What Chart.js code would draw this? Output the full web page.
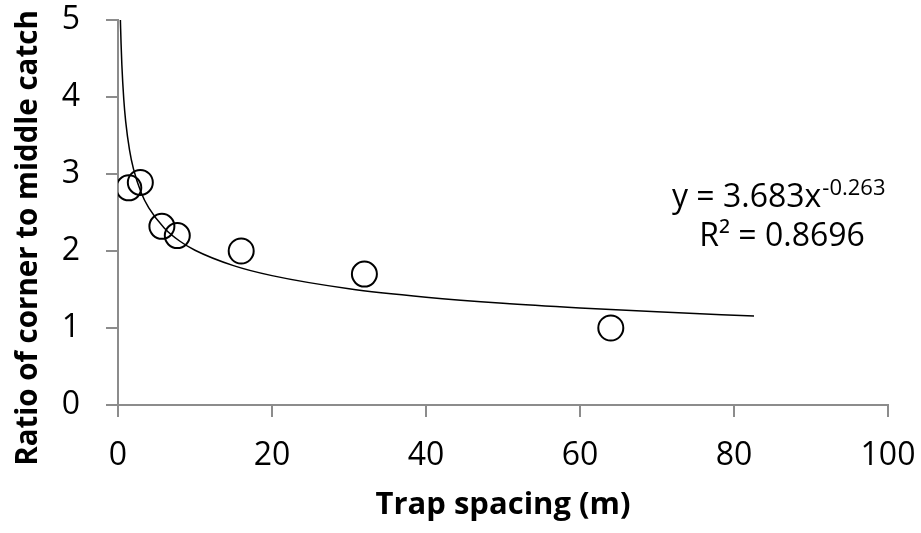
<!DOCTYPE html>
<html>
<head>
<meta charset="utf-8">
<script src="https://cdn.jsdelivr.net/npm/chart.js@4/dist/chart.umd.min.js"></script>
<style>
  html, body { margin: 0; padding: 0; background: #fff; }
  #wrap { width: 921px; height: 533px; position: relative; }
</style>
</head>
<body>
<div id="wrap"><canvas id="myChart" width="921" height="533"></canvas></div>
<script>
// observed points
const spacing = [1.4, 2.9, 5.7, 7.7, 16, 32, 64];
const ratio = [2.82, 2.89, 2.32, 2.2, 2.0, 1.7, 1.0];

// power trendline
const trendX = [0.31, 0.4, 0.5, 0.75, 1, 1.5, 2, 3, 4, 6, 8, 10, 15, 20, 30, 40, 50, 60, 70, 82.6];
const trendY = [5.0, 4.69, 4.42, 3.97, 3.68, 3.31, 3.07, 2.76, 2.56, 2.30, 2.13, 2.01, 1.81, 1.68, 1.51, 1.40, 1.32, 1.26, 1.21, 1.155];

const xTicks = [0, 20, 40, 60, 80, 100];
const yTicks = [0, 1, 2, 3, 4, 5];

const yTitle = 'Ratio of corner to middle catch';
const equationText = 'y = 3.683x';
const exponentText = '-0.263';
const r2Text = 'R² = 0.8696';

const fontFamily = '"Open Sans", "Noto Sans", sans-serif';
const axisGrey = '#8c8c8c';

// equation label and the y axis title (Excel puts it a bit lower than centred)
const labelsPlugin = {
    id: 'labels',
    afterDraw(chart) {
        const ctx = chart.ctx;
        ctx.save();
        ctx.fillStyle = '#000';
        ctx.textBaseline = 'alphabetic';
        ctx.textAlign = 'left';
        ctx.font = '32px ' + fontFamily;
        const w = ctx.measureText(equationText).width;
        ctx.fillText(equationText, 672, 207);
        ctx.font = '22px ' + fontFamily;
        ctx.fillText(exponentText, 672 + w + 1, 195);
        ctx.font = '32px ' + fontFamily;
        ctx.textAlign = 'center';
        ctx.fillText(r2Text, 782, 246);

        ctx.translate(29, 238);
        ctx.rotate(-Math.PI / 2);
        ctx.font = 'bold 29.5px ' + fontFamily;
        ctx.textBaseline = 'middle';
        ctx.fillText(yTitle, 0, 0);
        ctx.restore();
    }
};

const ctx = document.getElementById('myChart').getContext('2d');
new Chart(ctx, {
    type: 'scatter',
    data: {
        datasets: [
            {
                label: 'Trend',
                data: trendX.map((x, i) => ({ x: x, y: trendY[i] })),
                showLine: true,
                borderColor: '#000',
                borderWidth: 1.5,
                pointRadius: 0,
                cubicInterpolationMode: 'monotone',
                fill: false,
                order: 2,
            },
            {
                label: 'Ratio',
                data: spacing.map((x, i) => ({ x: x, y: ratio[i] })),
                pointRadius: 12.5,
                pointBorderWidth: 2,
                pointBorderColor: '#000',
                pointBackgroundColor: 'rgba(255,255,255,0)',
                order: 1,
            },
        ],
    },
    options: {
        responsive: false,
        animation: false,
        layout: { padding: { top: 20, right: 33, left: 0, bottom: 0 } },
        plugins: {
            legend: { display: false },
            tooltip: { enabled: false },
        },
        scales: {
            x: {
                type: 'linear',
                min: 0,
                max: 100,
                afterBuildTicks: (axis) => { axis.ticks = xTicks.map(v => ({ value: v })); },
                afterFit: (axis) => {
                    axis.height = 128;
                    axis.paddingLeft = 0;
                    axis.paddingRight = 0;
                },
                ticks: {
                    color: '#000',
                    font: { family: fontFamily, size: 32 },
                    padding: 20,
                    maxRotation: 0,
                },
                grid: {
                    display: true,
                    drawOnChartArea: false,
                    drawTicks: true,
                    tickLength: 12,
                    color: axisGrey,
                    lineWidth: 2,
                },
                border: { display: true, color: axisGrey, width: 2 },
                title: {
                    display: true,
                    text: 'Trap spacing (m)',
                    color: '#000',
                    font: { family: fontFamily, size: 31, weight: 'bold' },
                    padding: { top: 0, bottom: 9 },
                },
            },
            y: {
                type: 'linear',
                min: 0,
                max: 5,
                afterBuildTicks: (axis) => { axis.ticks = yTicks.map(v => ({ value: v })); },
                afterFit: (axis) => {
                    axis.width = 118;
                    axis.paddingTop = 0;
                    axis.paddingBottom = 0;
                },
                ticks: {
                    color: '#000',
                    font: { family: fontFamily, size: 32 },
                    padding: 26,
                },
                grid: {
                    display: true,
                    drawOnChartArea: false,
                    drawTicks: true,
                    tickLength: 12,
                    color: axisGrey,
                    lineWidth: 2,
                },
                border: { display: true, color: axisGrey, width: 2 },
                title: { display: false },
            },
        },
    },
    plugins: [labelsPlugin],
});
</script>
</body>
</html>
